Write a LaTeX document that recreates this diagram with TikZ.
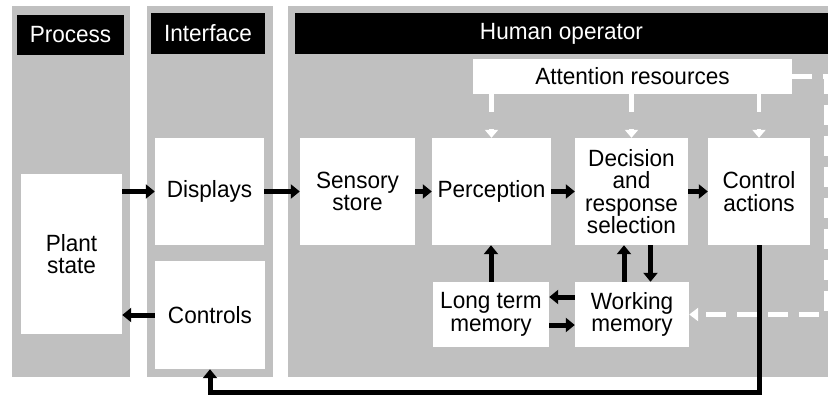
\documentclass[tikz,border=0pt]{standalone}
\usepackage{fontspec}
\setmainfont[FakeStretch=0.96]{Liberation Sans}
\usetikzlibrary{arrows.meta}
\definecolor{panelgray}{HTML}{C0C0C0}

\begin{document}
\begin{tikzpicture}[x=1pt,y=-1pt,
  panel/.style={fill=panelgray, draw=none},
  header/.style={fill=black, text=white, inner sep=0pt, font=\fontsize{23.5}{22.5}\selectfont},
  box/.style={fill=white, inner sep=0pt, align=center, font=\fontsize{23.5}{22.5}\selectfont},
  flow/.style={line width=5pt, -{Triangle[length=9pt,width=14pt]}},
  attn/.style={draw=white, line width=4.5pt, dash pattern=on 18pt off 17pt, -{Triangle[length=8pt,width=13pt]}},
  back/.style={draw=white, line width=4.5pt, dash pattern=on 20pt off 11pt, -{Triangle[length=9pt,width=13pt]}},
]
\useasboundingbox (0,0) rectangle (828,396);

% column panels
\fill[panel] (12,6) rectangle (130,377);
\fill[panel] (147,6) rectangle (273,377);
\fill[panel] (288,6) rectangle (828,377);

% column headers
\node[header, minimum width=107pt, minimum height=40pt] (hproc) at (70.5,35) {Process};
\node[header, minimum width=114pt, minimum height=41pt] (hintf) at (208,33.5) {Interface};
\node[header, minimum width=533pt, minimum height=41pt] (hhum) at (561.5,33.5) {Human operator};

% process and interface
\node[box, minimum width=101pt, minimum height=160pt] (plant) at (71.5,254) {Plant\\state};
\node[box, minimum width=109pt, minimum height=107pt] (displays) at (209.5,191.5) {Displays};
\node[box, minimum width=110pt, minimum height=108pt] (controls) at (210,315) {Controls};

% human operator
\node[box, minimum width=319pt, minimum height=35pt] (attention) at (632.5,76.5) {Attention resources};
\node[box, minimum width=115pt, minimum height=107pt] (sensory) at (357.5,191.5) {Sensory\\store};
\node[box, minimum width=119pt, minimum height=107pt] (perception) at (491.5,191.5) {Perception};
\node[box, minimum width=113pt, minimum height=107pt] (decision) at (631.5,191.5) {Decision\\and\\response\\selection};
\node[box, minimum width=102pt, minimum height=107pt] (ctrlact) at (759,191.5) {Control\\actions};
\node[box, minimum width=116pt, minimum height=65pt] (longterm) at (491,314.5) {Long term\\memory};
\node[box, minimum width=114pt, minimum height=65pt] (working) at (632,314.5) {Working\\memory};

\coordinate (rt) at (826,0);
\coordinate (fb) at (0,392);

% attention allocation
\draw[attn] (attention.south -| perception.north) -- (perception.north);
\draw[attn] (attention.south -| decision.north) -- (decision.north);
\draw[attn] (attention.south -| ctrlact.north) -- (ctrlact.north);
\draw[back] (attention.east) -| (rt |- working.east) -- (working.east);

% main information flow
\draw[flow] (plant.east |- displays.west) -- (displays.west);
\draw[flow] (displays) -- (sensory);
\draw[flow] (sensory) -- (perception);
\draw[flow] (perception) -- (decision);
\draw[flow] (decision) -- (ctrlact);
\draw[flow] (controls.west) -- (controls.west -| plant.east);

% memory exchanges
\draw[flow] (longterm.north) -- (longterm.north |- perception.south);
\draw[flow] ([xshift=-8pt]working.north) -- ([xshift=-8pt]working.north |- decision.south);
\draw[flow] ([xshift=19pt]decision.south) -- ([xshift=19pt]decision.south |- working.north);
\draw[flow] ([yshift=17.5pt]working.west) -- ([yshift=17.5pt]working.west -| longterm.east);
\draw[flow] ([yshift=-10.5pt]longterm.east) -- ([yshift=-10.5pt]longterm.east -| working.west);

% control output back to the interface
\draw[line width=5pt, -{Triangle[length=9pt,width=14pt]}] (ctrlact.south) |- (controls.south |- fb) -- (controls.south);
\end{tikzpicture}
\end{document}
